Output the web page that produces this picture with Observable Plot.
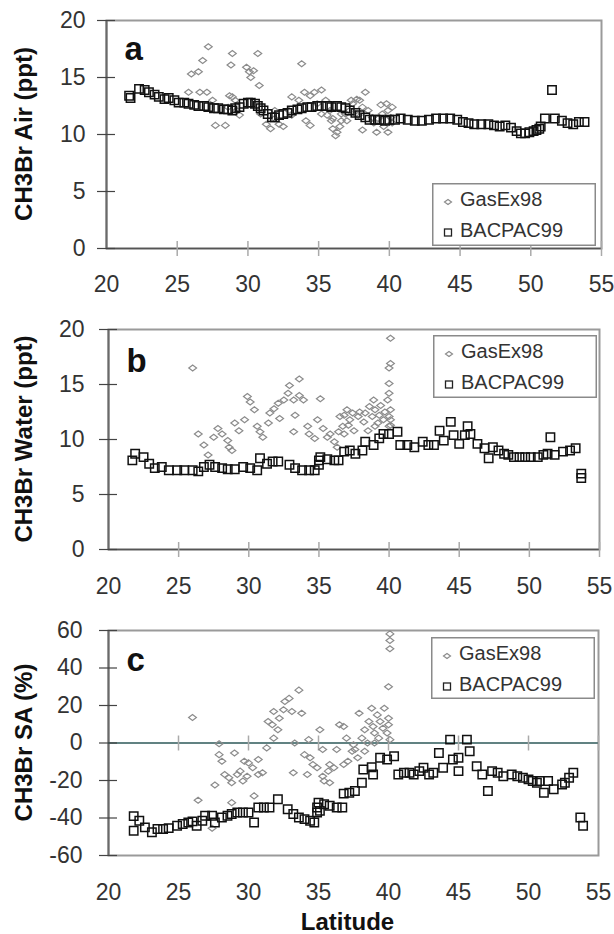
<!DOCTYPE html>
<html><head><meta charset="utf-8">
<script src="https://cdn.jsdelivr.net/npm/d3@7"></script>
<script src="https://cdn.jsdelivr.net/npm/@observablehq/plot@0.6"></script>
<style>
body{margin:0;background:#fff;}
#wrap{position:relative;width:614px;height:934px;overflow:hidden;background:#fff;font-family:"Liberation Sans",Arial,sans-serif;}
.panel{position:absolute;left:0;}
.legend{position:absolute;}
.ytitle{position:absolute;left:0;}
</style></head>
<body><div id="wrap"></div>
<script>
// ---------- data (latitude, value) ----------
const seriesNames = ["GasEx98", "BACPAC99"];
const xTicks = [20, 25, 30, 35, 40, 45, 50, 55];
const yTicksConc = [0, 5, 10, 15, 20];
const yTicksSA = [-60, -40, -20, 0, 20, 40, 60];

const airGas = [[25.8,13.7],[26.0,15.3],[26.5,15.5],[26.6,13.7],[26.8,16.5],[27.2,17.7],[27.1,13.7],[27.5,13.0],[27.7,10.8],[28.4,10.8],[28.6,12.4],[28.7,13.4],[28.8,16.1],[28.9,17.1],[28.9,13.3],[29.1,13.0],[29.2,12.1],[29.4,11.7],[29.9,15.9],[30.1,15.5],[30.2,15.0],[30.4,15.6],[30.7,17.1],[30.8,14.3],[30.9,11.8],[31.3,10.9],[31.6,10.5],[31.9,11.4],[31.9,12.1],[32.2,10.9],[32.5,10.7],[32.9,12.1],[33.1,13.3],[33.1,11.7],[33.6,13.0],[33.8,16.2],[34.0,13.7],[34.1,11.2],[34.4,13.4],[34.4,10.8],[34.7,13.7],[34.9,12.7],[35.2,13.9],[35.2,11.8],[35.5,13.0],[35.6,11.7],[35.8,12.1],[35.9,11.2],[36.0,10.5],[36.0,11.4],[36.2,9.9],[36.3,10.2],[36.5,10.7],[36.6,11.2],[36.6,11.8],[36.9,11.8],[37.0,11.2],[37.2,12.1],[37.3,13.0],[37.4,12.7],[37.6,11.8],[37.7,13.1],[37.8,11.7],[37.9,13.0],[38.1,12.4],[38.1,10.4],[38.3,13.7],[38.5,12.1],[38.8,11.5],[38.9,11.0],[39.1,10.2],[39.2,11.4],[39.4,12.6],[39.5,11.8],[39.6,10.7],[39.8,12.7],[39.9,12.1],[39.9,10.2],[40.1,11.5],[40.2,11.0],[40.2,12.4]];

const airBac = [[21.6,13.4],[21.7,13.2],[22.3,14.0],[22.7,13.9],[23.0,13.7],[23.4,13.5],[23.7,13.3],[24.1,13.1],[24.4,13.2],[24.8,13.0],[25.1,12.8],[25.5,12.8],[25.8,12.7],[26.2,12.6],[26.5,12.5],[26.9,12.5],[27.2,12.4],[27.6,12.3],[27.9,12.3],[28.3,12.2],[28.6,12.2],[28.9,12.1],[29.1,12.3],[29.4,12.4],[29.7,12.7],[30.0,12.8],[30.2,12.8],[30.5,12.7],[30.7,12.5],[30.9,12.3],[31.1,12.1],[31.4,11.8],[31.7,11.5],[31.9,11.5],[32.2,11.7],[32.5,11.8],[32.8,11.9],[33.1,12.1],[33.5,12.2],[33.8,12.3],[34.2,12.4],[34.5,12.4],[34.9,12.5],[35.2,12.5],[35.6,12.5],[35.9,12.4],[36.3,12.5],[36.6,12.4],[36.9,12.3],[37.2,12.1],[37.6,11.9],[37.9,11.7],[38.3,11.5],[38.6,11.3],[39.0,11.3],[39.3,11.3],[39.7,11.2],[40.0,11.3],[40.4,11.3],[40.8,11.4],[41.3,11.3],[41.8,11.2],[42.3,11.2],[42.8,11.3],[43.3,11.4],[43.8,11.4],[44.3,11.4],[44.8,11.3],[45.2,11.1],[45.6,11.0],[46.0,10.9],[46.5,10.9],[47.0,10.9],[47.4,10.8],[47.8,10.7],[48.2,10.8],[48.6,10.6],[49.0,10.3],[49.3,10.1],[49.6,10.1],[49.9,10.2],[50.2,10.3],[50.4,10.4],[50.6,10.5],[50.7,10.7],[51.0,11.4],[51.5,13.9],[51.7,11.4],[52.2,11.2],[52.6,11.0],[53.0,10.9],[53.4,11.1],[53.8,11.1]];

const waterGas = [[26.0,16.5],[26.4,10.5],[26.8,9.5],[27.1,8.6],[27.5,10.2],[27.8,11.0],[28.1,10.5],[28.5,9.9],[28.6,9.3],[28.8,9.0],[29.0,11.5],[29.3,10.8],[29.7,11.8],[29.9,13.9],[30.1,13.4],[30.4,12.7],[30.6,11.2],[30.8,10.7],[31.0,10.2],[31.4,11.5],[31.5,12.4],[31.8,12.8],[32.1,13.3],[32.2,11.9],[32.5,13.6],[32.8,14.2],[32.9,14.9],[33.2,13.6],[33.3,12.2],[33.2,10.7],[33.6,15.5],[33.6,14.0],[33.9,13.6],[34.2,11.2],[34.3,10.5],[34.7,10.1],[34.9,11.8],[35.1,13.7],[35.3,11.0],[35.6,10.2],[35.8,10.5],[36.1,9.8],[36.3,9.3],[36.4,10.7],[36.5,12.1],[36.7,11.2],[36.8,10.5],[36.8,12.2],[37.0,12.7],[37.1,11.3],[37.2,11.8],[37.4,12.4],[37.5,10.8],[37.8,12.1],[37.9,12.5],[38.2,11.6],[38.3,12.4],[38.5,10.8],[38.6,13.0],[38.8,12.1],[38.9,13.6],[39.0,12.7],[39.0,11.2],[39.2,11.5],[39.3,12.2],[39.4,13.1],[39.6,11.8],[39.7,12.5],[39.9,13.6],[40.0,12.1],[40.0,11.2],[40.1,11.8],[40.1,11.3],[40.1,12.7],[40.0,14.2],[40.0,15.1],[40.0,16.5],[40.1,16.9],[40.1,19.2]];

const waterBac = [[21.7,8.1],[21.9,8.7],[22.5,8.4],[22.9,7.8],[23.3,7.4],[23.8,7.5],[24.3,7.2],[24.9,7.2],[25.4,7.2],[26.0,7.2],[26.4,7.1],[26.8,7.5],[27.2,7.7],[27.6,7.5],[28.1,7.4],[28.5,7.3],[29.0,7.3],[29.6,7.5],[30.1,7.4],[30.6,7.2],[30.8,8.3],[31.3,7.8],[31.7,8.0],[32.1,8.0],[32.9,7.7],[33.3,7.4],[33.8,7.2],[34.3,7.2],[34.7,7.2],[35.0,8.1],[35.1,8.4],[35.0,7.7],[35.6,8.2],[36.1,8.1],[36.4,8.1],[36.8,8.9],[37.2,9.0],[37.6,8.7],[38.1,9.0],[38.3,9.8],[38.9,9.5],[39.3,10.1],[39.6,10.5],[40.0,10.5],[40.6,10.7],[40.8,9.5],[41.3,9.5],[41.8,9.3],[42.4,9.8],[42.8,9.5],[43.2,9.5],[43.6,10.8],[43.9,9.9],[44.4,11.6],[44.6,10.4],[45.0,9.6],[45.4,10.4],[45.6,11.2],[45.8,10.5],[46.3,9.6],[46.8,9.2],[47.1,8.3],[47.4,9.3],[47.8,9.0],[48.2,8.7],[48.5,8.6],[48.9,8.4],[49.3,8.4],[49.7,8.4],[50.1,8.4],[50.6,8.4],[51.0,8.6],[51.3,8.7],[51.5,10.2],[51.8,8.6],[52.4,8.9],[52.9,9.0],[53.3,9.2],[53.7,6.9],[53.7,6.5]];

const saGas = [[26.0,13.6],[26.4,-30.5],[27.4,-45.5],[27.6,-22.4],[27.9,-0.4],[27.9,-6.2],[28.1,-9.7],[28.3,-16.8],[28.6,-18.5],[28.8,-21.2],[28.8,-31.8],[29.0,-5.3],[29.2,-16.8],[29.4,-15.0],[29.6,-20.3],[29.7,-9.7],[29.9,-17.7],[30.0,-10.6],[30.3,-13.2],[30.4,-28.2],[30.7,-16.8],[30.7,-8.8],[31.0,-15.9],[31.3,-2.6],[31.4,11.5],[31.7,9.7],[31.8,16.8],[31.8,2.6],[32.1,7.1],[32.2,13.2],[32.5,17.7],[32.6,22.1],[32.9,23.8],[33.1,16.8],[33.2,-15.9],[33.3,0.0],[33.6,28.2],[33.8,15.9],[34.0,-6.2],[34.2,-16.8],[34.3,1.8],[34.4,-7.9],[34.6,-11.5],[34.9,-13.2],[35.1,7.1],[35.3,-3.5],[35.3,-17.7],[35.4,-20.3],[35.7,-15.0],[35.8,-11.5],[35.8,-21.2],[36.1,-13.2],[36.3,-3.5],[36.5,9.7],[36.8,8.8],[36.8,-11.5],[37.0,2.6],[37.1,-9.7],[37.4,-4.4],[37.5,-0.9],[37.6,-3.5],[37.8,-7.9],[37.9,15.9],[38.1,2.6],[38.3,7.1],[38.3,-4.4],[38.5,0.0],[38.6,11.5],[38.8,18.5],[38.9,8.8],[39.0,5.3],[39.0,0.0],[39.2,15.0],[39.3,2.6],[39.4,11.5],[39.6,7.9],[39.7,18.5],[39.9,5.3],[40.0,30.0],[40.0,13.2],[40.0,9.7],[40.1,1.8],[40.1,50.3],[40.1,54.7],[40.1,58.2]];

const saBac = [[21.8,-39.0],[21.8,-46.8],[22.2,-41.5],[22.6,-45.0],[23.1,-47.6],[23.5,-45.9],[23.9,-45.9],[24.3,-45.4],[24.9,-44.1],[25.3,-43.2],[25.7,-42.4],[26.0,-41.8],[26.3,-44.1],[26.7,-41.5],[26.9,-38.8],[27.4,-38.8],[27.6,-42.4],[28.1,-39.7],[28.5,-38.8],[28.8,-37.9],[29.2,-37.1],[29.6,-37.1],[30.0,-37.1],[30.4,-42.4],[30.7,-34.4],[31.1,-34.4],[31.5,-34.4],[32.1,-30.0],[32.8,-35.3],[33.2,-37.9],[33.6,-39.7],[34.0,-40.6],[34.4,-41.5],[34.7,-42.4],[34.9,-37.1],[34.9,-34.4],[35.0,-31.8],[35.1,-36.2],[35.4,-32.7],[35.8,-33.5],[36.3,-34.4],[36.7,-34.4],[36.8,-27.0],[37.2,-26.5],[37.6,-25.6],[38.1,-21.2],[38.2,-14.1],[38.8,-12.9],[38.9,-16.8],[39.4,-7.9],[39.9,-8.8],[40.4,-7.1],[40.7,-16.8],[41.1,-15.9],[41.5,-15.9],[41.8,-16.8],[42.2,-15.0],[42.5,-13.2],[42.9,-16.8],[43.2,-15.9],[43.6,-5.3],[43.9,-13.2],[44.4,1.8],[44.6,-8.8],[45.0,-7.9],[45.0,-15.0],[45.6,1.8],[45.8,-4.4],[46.3,-12.4],[46.7,-16.8],[47.1,-25.6],[47.4,-15.0],[47.8,-15.9],[48.2,-17.7],[48.8,-16.8],[49.2,-17.7],[49.6,-18.5],[50.0,-19.4],[50.3,-20.3],[50.6,-21.2],[50.8,-20.3],[51.1,-26.5],[51.4,-20.3],[51.8,-24.7],[52.4,-22.1],[52.6,-21.2],[52.9,-18.5],[53.2,-15.9],[53.7,-39.7],[53.9,-44.1]];

// ---------- symbols ----------
const wideDiamond = {draw(ctx) { const w = 3.9, h = 3.0; ctx.moveTo(-w, 0); ctx.lineTo(0, -h); ctx.lineTo(w, 0); ctx.lineTo(0, h); ctx.closePath(); }};
const openSquare = {draw(ctx) { ctx.rect(-4.2, -4.2, 8.4, 8.4); }};

const wrap = document.getElementById("wrap");
const FONT = '"Liberation Sans", Arial, sans-serif';
const ns = "http://www.w3.org/2000/svg";
const plainFormat = d => String(d);

function panel(cfg) {
  const xMin = xTicks[0];
  const marks = [
    Plot.frame({stroke: "#9a9a9a", strokeWidth: 2}),
    Plot.ruleX([xMin], {stroke: "#6a6a6a", strokeWidth: 2}),
    Plot.ruleY([cfg.axisY], {stroke: cfg.axisColor, strokeWidth: 1.6}),
    Plot.ruleY(cfg.yTicks, {y: d => d, x1: () => xMin, x2: () => xMin, insetLeft: -9, insetRight: -9, stroke: "#444", strokeWidth: 1.2}),
    Plot.ruleX(xTicks.slice(1), {x: d => d, y1: () => cfg.axisY, y2: () => cfg.axisY, insetTop: -7, insetBottom: -8, stroke: "#aaa", strokeWidth: 1.5}),
    Plot.axisX(xTicks, {tickSize: 0, tickPadding: cfg.xPad, label: null, fill: "#333", fontSize: 23, tickFormat: plainFormat}),
    Plot.axisY(cfg.yTicks, {tickSize: 0, tickPadding: cfg.yPad, label: null, fill: "#333", fontSize: 23, tickFormat: plainFormat}),
    Plot.dot(cfg.gas, {x: d => d[0], y: d => d[1], symbol: wideDiamond, fill: "none", stroke: "#8c8c8c", strokeWidth: 1.2}),
    Plot.dot(cfg.bac, {x: d => d[0], y: d => d[1], symbol: openSquare, fill: "none", stroke: "#111", strokeWidth: 1.5}),
    Plot.text([cfg.letter], {text: d => d, frameAnchor: "top-left", dx: 18, dy: cfg.letterDy, textAnchor: "start", lineAnchor: "bottom", fontSize: 33, fontWeight: "bold", fill: "#111"})
  ];
  if (cfg.xLabel) marks.push(Plot.text([cfg.xLabel], {text: d => d, frameAnchor: "bottom", dx: -6, dy: 67, lineAnchor: "middle", fontSize: 24, fontWeight: "bold", fill: "#111"}));
  const svg = Plot.plot({
    width: 614, height: cfg.height,
    marginTop: cfg.mt, marginBottom: cfg.mb, marginLeft: cfg.ml, marginRight: cfg.mr,
    style: {fontFamily: FONT, background: "transparent", overflow: "visible"},
    x: {domain: [xTicks[0], xTicks[xTicks.length - 1]], axis: null},
    y: {domain: [cfg.yTicks[0], cfg.yTicks[cfg.yTicks.length - 1]], axis: null},
    marks
  });
  const div = document.createElement("div");
  div.className = "panel";
  div.style.top = cfg.top + "px";
  div.appendChild(svg);
  wrap.appendChild(div);

  // rotated y-axis title
  const cy = cfg.top + cfg.mt + (cfg.height - cfg.mt - cfg.mb) / 2;
  const t = document.createElementNS(ns, "svg");
  t.setAttribute("width", 48); t.setAttribute("height", 934);
  t.setAttribute("class", "ytitle");
  t.style.top = "0px";
  t.innerHTML = `<text transform="translate(32,${cy}) rotate(-90)" text-anchor="middle" font-family='${FONT}' font-size="24" font-weight="bold" fill="#111">${cfg.title}</text>`;
  wrap.appendChild(t);

  // legend box
  const lg = cfg.legend;
  const l = document.createElementNS(ns, "svg");
  l.setAttribute("width", lg.w); l.setAttribute("height", lg.h);
  l.setAttribute("class", "legend");
  l.style.left = lg.x + "px"; l.style.top = lg.y + "px";
  l.innerHTML =
    `<rect x="0.75" y="0.75" width="${lg.w - 1.5}" height="${lg.h - 1.5}" fill="#fff" stroke="#8a8a8a" stroke-width="1.5"/>` +
    `<path d="M12.5,19 L16,16.5 L19.5,19 L16,21.5 Z" fill="none" stroke="#8c8c8c" stroke-width="1.2"/>` +
    `<rect x="12.5" y="46" width="7" height="7" fill="none" stroke="#222" stroke-width="1.3"/>` +
    `<text x="28" y="23" font-family='${FONT}' font-size="20" fill="#333">${seriesNames[0]}</text>` +
    `<text x="28" y="54" font-family='${FONT}' font-size="20" fill="#333">${seriesNames[1]}</text>`;
  wrap.appendChild(l);
}

panel({top: 0, height: 300, mt: 20, mb: 52, ml: 106, mr: 13, yTicks: yTicksConc, axisY: 0, axisColor: "#555",
  xPad: 27, yPad: 21, gas: airGas, bac: airBac, title: "CH3Br Air (ppt)", letter: "a", letterDy: 39,
  legend: {x: 432, y: 183, w: 164, h: 63}});
panel({top: 300, height: 310, mt: 29, mb: 61, ml: 108, mr: 15, yTicks: yTicksConc, axisY: 0, axisColor: "#555",
  xPad: 28, yPad: 24, gas: waterGas, bac: waterBac, title: "CH3Br Water (ppt)", letter: "b", letterDy: 42,
  legend: {x: 433, y: 335, w: 164, h: 63}});
panel({top: 610, height: 324, mt: 20, mb: 79, ml: 108, mr: 16, yTicks: yTicksSA, axisY: 0, axisColor: "#2c5858",
  xPad: 28, yPad: 26, gas: saGas, bac: saBac, title: "CH3Br SA (%)", letter: "c", letterDy: 40, xLabel: "Latitude",
  legend: {x: 431, y: 637, w: 164, h: 62}});
</script>
</body></html>
